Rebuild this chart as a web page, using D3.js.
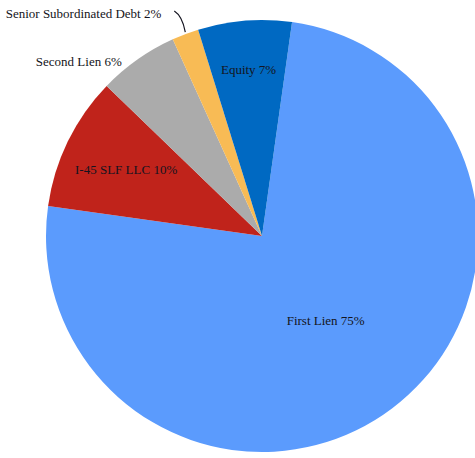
<!DOCTYPE html>
<html>
<head>
<meta charset="utf-8">
<script src="https://cdn.jsdelivr.net/npm/d3@7"></script>
<style>
  html, body { margin: 0; padding: 0; background: #fff; overflow: hidden; }
  .sliceLabel { font-family: "Liberation Serif", "Times New Roman", serif; font-size: 13px; fill: #141420; }
</style>
</head>
<body>
<div id="pie-chart"></div>
<script>
'use strict';

// chart data
const categories = ["First Lien", "I-45 SLF LLC", "Second Lien", "Senior Subordinated Debt", "Equity"];
const shares = [75, 10, 6, 2, 7];
const sliceColors = ["#5b9bfd", "#c0231b", "#ababab", "#f8bb55", "#0069c2"];

const width = 475, height = 458;
const cx = 262, cy = 236, radius = 216;

let svg = d3.select("#pie-chart")
    .append("svg")
    .attr("width", width)
    .attr("height", height);

let g = svg.append("g")
    .attr("transform", "translate(" + cx + "," + cy + ")");

let rows = categories.map((c, i) => ({ name: c, value: shares[i], color: sliceColors[i] }));

// first slice begins just past 12 o'clock
let start = 8 * Math.PI / 180;
let pie = d3.pie()
    .sort(null)
    .value(d => d.value)
    .startAngle(start)
    .endAngle(start + 2 * Math.PI);
let arcs = pie(rows);

let arc = d3.arc().innerRadius(0).outerRadius(radius);

g.selectAll("path.slice")
    .data(arcs)
    .enter()
    .append("path")
    .attr("class", "slice")
    .attr("d", arc)
    .attr("fill", d => d.data.color);

// label placement: fraction of radius along slice middle, then a nudge
let labelLayout = {
    "First Lien":               { k: 0.49, dx: 0,   dy: 0,   anchor: "middle" },
    "I-45 SLF LLC":             { k: 0.70, dx: 0,   dy: 0,   anchor: "middle" },
    "Equity":                   { k: 0.775, dx: 0,  dy: 0,   anchor: "middle" },
    "Second Lien":              { k: 0.99, dx: -17, dy: 0,   anchor: "end" },
    "Senior Subordinated Debt": { k: 1.0,  dx: -24, dy: -21, anchor: "end" }
};

function pointAt(angle, r) {
    return [Math.sin(angle) * r, -Math.cos(angle) * r];
}

arcs.forEach(a => {
    let lay = labelLayout[a.data.name];
    let mid = (a.startAngle + a.endAngle) / 2;
    let p = pointAt(mid, radius * lay.k);
    g.append("text")
        .attr("class", "sliceLabel")
        .attr("x", p[0] + lay.dx)
        .attr("y", p[1] + lay.dy)
        .attr("dy", "0.35em")
        .attr("text-anchor", lay.anchor)
        .text(a.data.name + " " + a.data.value + "%");
    // leader line for the thin slice
    if (a.data.name === "Senior Subordinated Debt") {
        let e = pointAt(mid, radius);
        g.append("path")
            .attr("d", "M" + e[0] + "," + (e[1] - 2) +
                " Q" + (e[0] - 3) + "," + (e[1] - 18) +
                " " + (e[0] - 11) + "," + (e[1] - 23))
            .attr("fill", "none")
            .attr("stroke", "#141420")
            .attr("stroke-width", 1.2);
    }
});
</script>
</body>
</html>
